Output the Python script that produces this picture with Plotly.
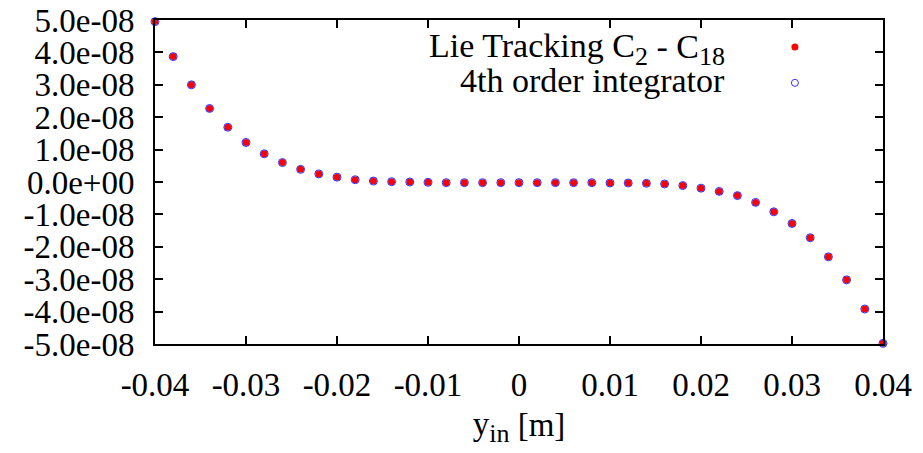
import plotly.graph_objects as go

# Data (x in m, y values)
y_in = [-0.040, -0.038, -0.036, -0.034, -0.032, -0.030, -0.028, -0.026, -0.024, -0.022,
        -0.020, -0.018, -0.016, -0.014, -0.012, -0.010, -0.008, -0.006, -0.004, -0.002,
        0.000, 0.002, 0.004, 0.006, 0.008, 0.010, 0.012, 0.014, 0.016, 0.018,
        0.020, 0.022, 0.024, 0.026, 0.028, 0.030, 0.032, 0.034, 0.036, 0.038, 0.040]

lie_tracking = [4.95e-8, 3.87e-8, 3.00e-8, 2.27e-8, 1.69e-8, 1.22e-8, 0.87e-8, 0.60e-8, 0.39e-8, 0.25e-8,
                0.15e-8, 0.07e-8, 0.03e-8, 0.01e-8, 0.00e-8, -0.01e-8, -0.02e-8, -0.02e-8, -0.02e-8, -0.02e-8,
                -0.02e-8, -0.02e-8, -0.02e-8, -0.02e-8, -0.02e-8, -0.03e-8, -0.03e-8, -0.04e-8, -0.06e-8, -0.11e-8,
                -0.19e-8, -0.29e-8, -0.42e-8, -0.63e-8, -0.92e-8, -1.28e-8, -1.72e-8, -2.31e-8, -3.02e-8, -3.92e-8, -4.98e-8]

integrator_4th = [4.95e-8, 3.87e-8, 3.00e-8, 2.27e-8, 1.69e-8, 1.22e-8, 0.87e-8, 0.60e-8, 0.39e-8, 0.25e-8,
                  0.15e-8, 0.07e-8, 0.03e-8, 0.01e-8, 0.00e-8, -0.01e-8, -0.02e-8, -0.02e-8, -0.02e-8, -0.02e-8,
                  -0.02e-8, -0.02e-8, -0.02e-8, -0.02e-8, -0.02e-8, -0.03e-8, -0.03e-8, -0.04e-8, -0.06e-8, -0.11e-8,
                  -0.19e-8, -0.29e-8, -0.42e-8, -0.63e-8, -0.92e-8, -1.28e-8, -1.72e-8, -2.31e-8, -3.02e-8, -3.92e-8, -4.98e-8]

x_tickvals = [-0.04, -0.03, -0.02, -0.01, 0, 0.01, 0.02, 0.03, 0.04]
x_ticktext = ["-0.04", "-0.03", "-0.02", "-0.01", "0", "0.01", "0.02", "0.03", "0.04"]
y_tickvals = [5e-8, 4e-8, 3e-8, 2e-8, 1e-8, 0, -1e-8, -2e-8, -3e-8, -4e-8, -5e-8]
y_ticktext = ["5.0e-08", "4.0e-08", "3.0e-08", "2.0e-08", "1.0e-08", "0.0e+00",
              "-1.0e-08", "-2.0e-08", "-3.0e-08", "-4.0e-08", "-5.0e-08"]

FONT = "Liberation Serif"
FS = 33
SUB = '<sub style="font-size:26px !important">%s</sub>'

fig = go.Figure()
fig.add_trace(go.Scatter(x=y_in, y=lie_tracking, mode="markers", name="Lie Tracking C2 - C18",
                         marker=dict(symbol="circle", size=7, color="#ff0000", line=dict(width=0)),
                         cliponaxis=False, showlegend=False))
fig.add_trace(go.Scatter(x=y_in, y=integrator_4th, mode="markers", name="4th order integrator",
                         marker=dict(symbol="circle-open", size=8, color="#3030ff", line=dict(width=1, color="#3030ff")),
                         cliponaxis=False, showlegend=False))

axis_common = dict(showline=True, linecolor="black", linewidth=2, mirror="ticks",
                   ticks="inside", ticklen=8, tickwidth=1.5, tickcolor="black",
                   showgrid=False, zeroline=False, automargin=False,
                   tickfont=dict(family=FONT, size=FS, color="black"))

fig.update_xaxes(range=[-0.04, 0.04], tickvals=x_tickvals, ticktext=x_ticktext,
                 ticklabelstandoff=10,
                 title=dict(text="y" + SUB % "in" + " [m]", font=dict(family=FONT, size=FS, color="black"), standoff=10),
                 **axis_common)
fig.update_yaxes(range=[-5e-8, 5e-8], tickvals=y_tickvals, ticktext=y_ticktext,
                 ticklabelstandoff=12, **axis_common)

# Legend drawn gnuplot-style: text right-justified, symbol to its right
leg_font = dict(family=FONT, size=34, color="black")
fig.add_annotation(xref="paper", yref="paper", x=0.786, y=0.912, xanchor="right", yanchor="middle",
                   text="Lie Tracking C" + SUB % "2" + " - C" + SUB % "18",
                   showarrow=False, font=leg_font)
fig.add_annotation(xref="paper", yref="paper", x=0.786, y=0.812, xanchor="right", yanchor="middle",
                   text="4th order integrator", showarrow=False, font=leg_font)
fig.add_shape(type="circle", xref="paper", yref="paper", xsizemode="pixel", ysizemode="pixel",
              xanchor=0.879, yanchor=0.917, x0=-3.5, x1=3.5, y0=-3.5, y1=3.5,
              fillcolor="#ff0000", line=dict(width=0))
fig.add_shape(type="circle", xref="paper", yref="paper", xsizemode="pixel", ysizemode="pixel",
              xanchor=0.879, yanchor=0.806, x0=-3.5, x1=3.5, y0=-3.5, y1=3.5,
              fillcolor="rgba(0,0,0,0)", line=dict(width=1, color="#3030ff"))

fig.update_layout(width=923, height=453, margin=dict(l=155, r=40, t=20, b=109),
                  paper_bgcolor="white", plot_bgcolor="white", showlegend=False)

fig.write_html("out.html")
